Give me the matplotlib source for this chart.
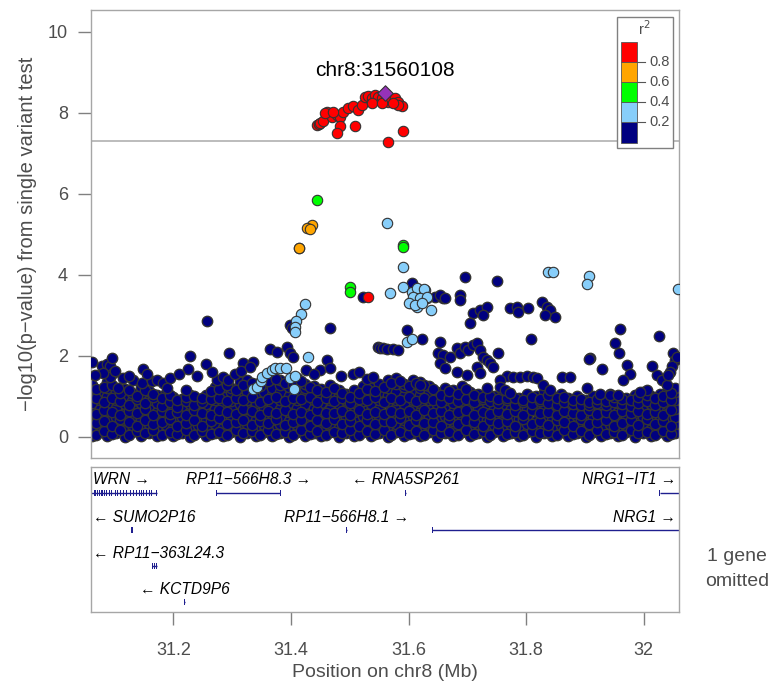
import numpy as np
import matplotlib
matplotlib.use('Agg')
import matplotlib.pyplot as plt
from matplotlib.patches import Rectangle

plt.rcParams['font.family'] = ['Liberation Sans', 'DejaVu Sans']

MINUS = '\u2212'

# ---------------- data: SNPs (position Mb, -log10 p) ----------------
lead_x = [31.5601]
lead_y = [8.50]
lead_label = "chr8:31560108"

red_x = [31.4438, 31.4470, 31.4495, 31.4546, 31.4614, 31.4699, 31.4784, 31.4835, 31.4886,
         31.4971, 31.5056, 31.5141, 31.5209, 31.5260, 31.5311, 31.5379, 31.5430, 31.5481,
         31.5549, 31.5651, 31.5685, 31.5770, 31.5821, 31.5889, 31.5821, 31.4835, 31.4784,
         31.5090, 31.5906, 31.5651, 31.4580, 31.4716, 31.5379, 31.5549, 31.5736, 31.5316]
red_y = [7.70, 7.73, 7.75, 7.79, 8.02, 7.91, 7.95, 7.91, 8.03,
         8.12, 8.16, 8.07, 8.20, 8.40, 8.42, 8.37, 8.44, 8.40,
         8.37, 8.28, 8.36, 8.36, 8.28, 8.17, 8.19, 7.68, 7.51,
         7.68, 7.56, 7.29, 7.99, 8.03, 8.24, 8.24, 8.24, 3.45]

orange_x = [31.4353, 31.4268, 31.4324, 31.4142, 31.4130]
orange_y = [5.23, 5.17, 5.13, 4.66, 4.67]

green_x = [31.4438, 31.5911, 31.5901, 31.5005, 31.5005]
green_y = [5.84, 4.74, 4.68, 3.70, 3.59]

lblue_x = [31.5629, 31.5901, 31.5685, 31.5901, 31.4239, 31.4171, 31.4086, 31.4069, 31.4069,
           31.4296, 31.3360, 31.3418, 31.3486, 31.3503, 31.3588, 31.3673, 31.3729, 31.3814,
           31.3916, 31.3984, 31.4069, 31.4052, 31.6054, 31.6139, 31.6280, 31.6081, 31.6195,
           31.6025, 31.6309, 31.6382, 31.6139, 31.6270, 31.6080, 31.6195, 31.6309, 31.6000,
           31.6110, 31.6224, 31.8377, 31.8462, 31.9074, 31.9040, 32.0588, 31.5969, 31.6064]
lblue_y = [5.29, 4.19, 3.55, 3.70, 3.28, 3.04, 2.87, 2.72, 2.58,
           1.97, 1.18, 1.23, 1.37, 1.47, 1.59, 1.65, 1.70, 1.70,
           1.71, 1.45, 1.51, 1.18, 3.59, 3.67, 3.63, 3.34, 3.34,
           3.30, 3.42, 3.14, 3.22, 3.65, 3.46, 3.42, 3.46, 3.30,
           3.26, 3.30, 4.08, 4.06, 3.98, 3.78, 3.65, 2.35, 2.41]

navy_x = [31.0612, 31.0782, 31.0867, 31.0923, 31.0952, 31.0979, 31.0923, 31.0809, 31.0668,
          31.1064, 31.1478, 31.1319, 31.1461, 31.1632, 31.1717, 31.1830, 31.1887, 31.2284,
          31.2245, 31.2551, 31.2216, 31.2952, 31.2738, 31.2850, 31.2935, 31.3190, 31.3360,
          31.3644, 31.3758, 31.3928, 31.3984, 31.4040, 31.4608, 31.4495, 31.4664, 31.5486,
          31.5289, 31.5401, 31.2578, 31.3980, 31.4010, 31.4664, 31.5515, 31.5571,
          31.5221, 31.6054, 31.6960, 31.6450, 31.6586, 31.6875, 31.7510, 31.6535, 31.6620,
          31.6875, 31.7101, 31.7215, 31.7330, 31.7272, 31.7045, 31.7726, 31.7840, 31.7867,
          31.8037, 31.8265, 31.8350, 31.8406, 31.8491, 31.8321, 31.5969, 31.6224, 31.8078,
          31.9597, 31.9511, 31.9580, 32.0265, 31.9086, 31.5636, 31.5736, 31.5821, 31.6535,
          31.6503, 31.6586, 31.6705, 31.6819, 31.6875, 31.6960, 31.7016, 31.7101, 31.7159,
          31.7215, 31.7272, 31.7330, 31.7386, 31.7442, 31.7527, 31.6535, 31.6620, 31.6819,
          31.6989, 31.7159, 31.7215, 31.6195, 31.7330, 31.7670, 31.7782, 31.7896, 31.8010,
          31.8122, 31.8180, 31.7556, 31.7556, 31.7641, 31.7726, 31.8605, 31.8746, 31.8292,
          31.8406, 31.9074, 31.9285, 31.9711, 31.9767, 31.9643, 32.0135, 32.0221, 32.0306,
          32.0391, 32.0051, 31.9937, 32.0503, 32.0532, 32.0476, 32.0561, 32.0447, 32.0418,
          31.9030, 31.9256, 31.9427, 31.9568, 31.1009, 31.1150, 31.1250, 31.1550, 31.1950,
          31.2100, 31.2400, 31.2650, 31.3050, 31.3150, 31.3300, 31.4250, 31.4400, 31.4850,
          31.5050, 31.5150]
navy_y = [1.86, 1.75, 1.79, 1.75, 1.94, 1.57, 1.49, 1.57, 1.53,
          1.20, 1.68, 1.41, 1.33, 1.37, 1.41, 1.33, 1.20, 2.00,
          1.67, 1.80, 1.16, 2.07, 1.41, 1.49, 1.41, 1.82, 1.86,
          2.17, 2.10, 2.23, 2.07, 1.98, 1.90, 1.65, 1.70, 2.23,
          1.44, 1.48, 2.86, 2.77, 2.68, 2.70, 2.20, 2.19,
          3.45, 3.79, 3.96, 3.46, 3.43, 3.50, 3.85, 3.50, 3.42,
          3.38, 3.05, 3.14, 3.22, 3.01, 2.81, 3.18, 3.22, 3.09,
          3.18, 3.34, 3.22, 3.14, 2.96, 3.01, 2.64, 2.41, 2.43,
          2.66, 2.31, 2.07, 2.49, 1.94, 2.18, 2.17, 2.15, 2.35,
          2.07, 2.02, 1.98, 2.19, 2.07, 2.23, 2.15, 2.27, 2.31,
          2.15, 1.98, 1.90, 1.82, 1.73, 2.07, 1.82, 1.70, 1.61,
          1.53, 1.73, 1.57, 1.28, 1.22, 1.51, 1.47, 1.47, 1.51,
          1.47, 1.45, 1.41, 1.24, 1.16, 1.08, 1.49, 1.47, 1.28,
          1.16, 1.93, 1.67, 1.78, 1.56, 1.41, 1.74, 1.53, 1.41,
          1.28, 1.16, 1.12, 2.07, 1.90, 1.74, 1.98, 1.61, 1.53,
          1.20, 1.05, 1.04, 1.04, 1.62, 1.45, 1.50, 1.55, 1.45,
          1.55, 1.50, 1.60, 1.55, 1.62, 1.72, 1.65, 1.55, 1.50,
          1.55, 1.60]

# dense low-significance carpet: one x per column, the -log10 p values read in that column
carpet_x = [31.061, 31.075, 31.088, 31.103, 31.117, 31.130, 31.145, 31.158, 31.172, 31.187,
            31.200, 31.214, 31.229, 31.242, 31.256, 31.271, 31.284, 31.298, 31.313, 31.326,
            31.340, 31.355, 31.368, 31.382, 31.397, 31.410, 31.424, 31.439, 31.452, 31.466,
            31.481, 31.494, 31.508, 31.523, 31.536, 31.550, 31.565, 31.578, 31.592, 31.607,
            31.620, 31.634, 31.649, 31.662, 31.676, 31.691, 31.704, 31.718, 31.733, 31.746,
            31.760, 31.775, 31.788, 31.802, 31.817, 31.830, 31.844, 31.859, 31.872, 31.886,
            31.901, 31.914, 31.928, 31.943, 31.956, 31.970, 31.985, 31.998, 32.012, 32.027,
            32.040, 32.054]
carpet_y = [
    [0.02, 0.21, 0.43, 0.61, 0.83, 1.04, 1.27],
    [0.11, 0.30, 0.52, 0.69, 0.91, 1.13],
    [0.03, 0.22, 0.41, 0.63, 0.82, 1.01, 1.22, 1.36],
    [0.09, 0.31, 0.50, 0.72, 0.90, 1.12],
    [0.01, 0.23, 0.42, 0.60, 0.81, 1.03, 1.19],
    [0.12, 0.29, 0.51, 0.71, 0.89, 1.08],
    [0.02, 0.20, 0.44, 0.62, 0.84, 1.02, 1.24],
    [0.10, 0.32, 0.49, 0.70, 0.92, 1.13],
    [0.03, 0.21, 0.40, 0.61, 0.83, 1.04],
    [0.11, 0.30, 0.52, 0.71, 0.90, 1.09],
    [0.02, 0.22, 0.41, 0.63, 0.80, 0.99],
    [0.09, 0.31, 0.50, 0.69, 0.93],
    [0.01, 0.20, 0.43, 0.62, 0.82, 1.03],
    [0.12, 0.29, 0.51, 0.72, 0.91],
    [0.03, 0.23, 0.42, 0.60, 0.81, 1.04],
    [0.10, 0.31, 0.49, 0.70, 0.92, 1.11, 1.24],
    [0.02, 0.21, 0.44, 0.63, 0.83, 1.02, 1.23, 1.31],
    [0.11, 0.30, 0.50, 0.71, 0.89, 1.10, 1.21],
    [0.01, 0.22, 0.41, 0.62, 0.82, 1.03, 1.21, 1.36],
    [0.09, 0.32, 0.52, 0.70, 0.91, 1.12, 1.31, 1.41],
    [0.03, 0.20, 0.43, 0.61, 0.84, 1.01, 1.22, 1.30],
    [0.12, 0.29, 0.51, 0.72, 0.90, 1.11, 1.32, 1.46],
    [0.02, 0.23, 0.42, 0.63, 0.81, 1.04, 1.21, 1.42, 1.52],
    [0.10, 0.31, 0.50, 0.69, 0.92, 1.10, 1.29, 1.41],
    [0.01, 0.21, 0.40, 0.62, 0.83, 1.02, 1.23, 1.35],
    [0.11, 0.30, 0.52, 0.71, 0.91, 1.12, 1.30, 1.46],
    [0.03, 0.22, 0.43, 0.60, 0.82, 1.03, 1.22, 1.31],
    [0.09, 0.29, 0.51, 0.72, 0.90, 1.11, 1.26],
    [0.02, 0.20, 0.41, 0.63, 0.84, 1.01, 1.19],
    [0.12, 0.32, 0.49, 0.70, 0.91, 1.10, 1.29],
    [0.01, 0.23, 0.44, 0.61, 0.81, 1.02, 1.16],
    [0.10, 0.31, 0.50, 0.69, 0.92, 1.06],
    [0.03, 0.21, 0.42, 0.62, 0.83, 1.04, 1.15],
    [0.11, 0.30, 0.52, 0.71, 0.89, 1.12, 1.25],
    [0.02, 0.22, 0.40, 0.63, 0.82, 1.01, 1.21],
    [0.09, 0.29, 0.51, 0.70, 0.90, 1.11, 1.30],
    [0.01, 0.20, 0.43, 0.60, 0.84, 1.03, 1.22, 1.40],
    [0.12, 0.32, 0.49, 0.72, 0.91, 1.10, 1.31, 1.46],
    [0.03, 0.23, 0.41, 0.62, 0.81, 1.02, 1.23, 1.31],
    [0.10, 0.31, 0.52, 0.71, 0.92, 1.12, 1.30, 1.41],
    [0.02, 0.21, 0.42, 0.61, 0.83, 1.04, 1.21, 1.36],
    [0.11, 0.30, 0.50, 0.69, 0.90, 1.11, 1.26],
    [0.01, 0.22, 0.44, 0.63, 0.82, 1.03, 1.10],
    [0.09, 0.29, 0.51, 0.70, 0.91, 1.12, 1.20],
    [0.03, 0.20, 0.40, 0.62, 0.84, 1.01, 1.15],
    [0.12, 0.32, 0.52, 0.72, 0.89, 1.10, 1.26],
    [0.02, 0.23, 0.43, 0.60, 0.81, 1.02, 1.10],
    [0.10, 0.31, 0.49, 0.71, 0.92, 1.05],
    [0.01, 0.21, 0.41, 0.63, 0.83, 1.04],
    [0.11, 0.30, 0.51, 0.70, 0.90, 1.00],
    [0.03, 0.22, 0.42, 0.61, 0.82, 1.03],
    [0.09, 0.29, 0.50, 0.69, 0.91, 1.01],
    [0.02, 0.20, 0.44, 0.62, 0.80, 0.96],
    [0.12, 0.32, 0.52, 0.72, 0.90, 1.05],
    [0.01, 0.23, 0.40, 0.63, 0.84, 1.00],
    [0.10, 0.31, 0.51, 0.70, 0.91, 1.10],
    [0.03, 0.21, 0.43, 0.61, 0.82, 1.01],
    [0.11, 0.30, 0.49, 0.71, 0.89, 1.06],
    [0.02, 0.22, 0.41, 0.60, 0.83, 0.95],
    [0.09, 0.29, 0.52, 0.69, 0.92, 1.00],
    [0.01, 0.20, 0.42, 0.62, 0.81, 0.90],
    [0.12, 0.32, 0.50, 0.72, 0.90, 1.01],
    [0.03, 0.23, 0.44, 0.63, 0.82, 0.95],
    [0.10, 0.31, 0.51, 0.70, 0.91, 1.05],
    [0.02, 0.21, 0.40, 0.61, 0.84, 1.00],
    [0.11, 0.30, 0.52, 0.71, 0.89, 0.96],
    [0.01, 0.22, 0.43, 0.60, 0.83, 1.04],
    [0.09, 0.29, 0.49, 0.72, 0.90, 1.10],
    [0.03, 0.20, 0.41, 0.62, 0.81, 1.01],
    [0.12, 0.32, 0.51, 0.69, 0.92, 1.05],
    [0.02, 0.23, 0.42, 0.63, 0.82, 1.03, 1.11],
    [0.10, 0.31, 0.50, 0.70, 0.91, 1.12, 1.21],
]
# second, interleaved set of carpet columns
carpet2_x = [31.068, 31.082, 31.096, 31.110, 31.124, 31.138, 31.151, 31.165, 31.180, 31.194,
             31.207, 31.222, 31.235, 31.249, 31.264, 31.278, 31.291, 31.306, 31.319, 31.333,
             31.348, 31.361, 31.375, 31.390, 31.403, 31.417, 31.432, 31.445, 31.459, 31.474,
             31.487, 31.501, 31.516, 31.529, 31.543, 31.558, 31.571, 31.585, 31.600, 31.613,
             31.627, 31.642, 31.655, 31.669, 31.684, 31.697, 31.711, 31.726, 31.739, 31.753,
             31.768, 31.781, 31.795, 31.810, 31.823, 31.837, 31.852, 31.865, 31.879, 31.894,
             31.907, 31.921, 31.936, 31.949, 31.963, 31.978, 31.991, 32.005, 32.020, 32.033,
             32.047]
carpet2_y = [
    [0.06, 0.34, 0.57, 0.95, 1.18], [0.15, 0.40, 0.66, 0.86, 1.24], [0.08, 0.27, 0.61, 0.97, 1.28],
    [0.17, 0.45, 0.55, 0.88, 1.09], [0.05, 0.36, 0.64, 0.79, 1.15], [0.14, 0.26, 0.58, 0.94, 1.02],
    [0.09, 0.41, 0.68, 0.85, 1.17], [0.16, 0.33, 0.54, 0.98, 1.07], [0.04, 0.38, 0.65, 0.77, 0.96],
    [0.13, 0.44, 0.57, 0.87, 1.03], [0.07, 0.28, 0.62, 0.74, 0.92], [0.18, 0.35, 0.53, 0.89, 0.99],
    [0.06, 0.42, 0.66, 0.78, 1.01], [0.15, 0.27, 0.59, 0.86, 0.96], [0.08, 0.39, 0.55, 0.93, 1.14],
    [0.12, 0.46, 0.67, 0.96, 1.19], [0.05, 0.32, 0.61, 0.88, 1.27], [0.17, 0.37, 0.56, 0.97, 1.16],
    [0.09, 0.43, 0.68, 0.92, 1.29], [0.14, 0.29, 0.63, 0.99, 1.34], [0.06, 0.40, 0.54, 0.87, 1.25],
    [0.16, 0.34, 0.65, 0.94, 1.38], [0.07, 0.45, 0.59, 0.98, 1.44], [0.13, 0.30, 0.66, 0.89, 1.33],
    [0.04, 0.38, 0.57, 0.96, 1.27], [0.18, 0.42, 0.62, 0.93, 1.37], [0.08, 0.27, 0.55, 0.99, 1.24],
    [0.15, 0.41, 0.67, 0.86, 1.17], [0.05, 0.35, 0.60, 0.95, 1.12], [0.12, 0.44, 0.58, 0.88, 1.22],
    [0.09, 0.31, 0.64, 0.97, 1.08], [0.16, 0.39, 0.53, 0.85, 0.98], [0.06, 0.28, 0.66, 0.94, 1.09],
    [0.14, 0.43, 0.57, 0.90, 1.18], [0.07, 0.33, 0.62, 0.98, 1.14], [0.17, 0.40, 0.56, 0.87, 1.24],
    [0.05, 0.36, 0.65, 0.96, 1.33], [0.13, 0.46, 0.59, 0.92, 1.38], [0.08, 0.29, 0.63, 0.99, 1.25],
    [0.15, 0.42, 0.54, 0.88, 1.33], [0.06, 0.35, 0.67, 0.95, 1.29], [0.18, 0.38, 0.58, 0.91, 1.18],
    [0.09, 0.27, 0.64, 0.86, 1.04], [0.12, 0.44, 0.55, 0.97, 1.13], [0.04, 0.32, 0.61, 0.89, 1.07],
    [0.16, 0.41, 0.66, 0.94, 1.18], [0.07, 0.37, 0.53, 0.87, 1.03], [0.14, 0.28, 0.62, 0.93, 0.98],
    [0.05, 0.43, 0.57, 0.88, 1.02], [0.17, 0.34, 0.65, 0.83, 0.94], [0.08, 0.39, 0.56, 0.91, 0.97],
    [0.13, 0.26, 0.63, 0.79, 0.95], [0.06, 0.45, 0.54, 0.86, 0.91], [0.15, 0.33, 0.67, 0.81, 0.99],
    [0.09, 0.40, 0.58, 0.88, 0.94], [0.12, 0.29, 0.61, 0.84, 1.03], [0.05, 0.42, 0.55, 0.79, 0.95],
    [0.18, 0.36, 0.64, 0.87, 0.99], [0.07, 0.27, 0.59, 0.82, 0.90], [0.14, 0.44, 0.53, 0.78, 0.94],
    [0.06, 0.31, 0.66, 0.80, 0.86], [0.16, 0.38, 0.57, 0.85, 0.93], [0.08, 0.43, 0.62, 0.79, 0.89],
    [0.13, 0.28, 0.54, 0.86, 0.98], [0.05, 0.35, 0.65, 0.81, 0.93], [0.17, 0.41, 0.58, 0.77, 0.90],
    [0.09, 0.30, 0.63, 0.84, 0.99], [0.12, 0.45, 0.56, 0.88, 1.04], [0.06, 0.33, 0.61, 0.80, 0.95],
    [0.15, 0.39, 0.55, 0.87, 1.01], [0.07, 0.28, 0.66, 0.91, 1.08],
]

# ---------------- legend ----------------
r2_breaks = ["0.2", "0.4", "0.6", "0.8"]
r2_colors = ["#000080", "#87CEFA", "#00FF00", "#FFA500", "#FF0000"]
lead_color = "#9632B8"

# ---------------- genes ----------------
gene_names = ["WRN", "RP11" + MINUS + "566H8.3", "RNA5SP261", "NRG1" + MINUS + "IT1",
              "SUMO2P16", "RP11" + MINUS + "566H8.1", "NRG1",
              "RP11" + MINUS + "363L24.3", "KCTD9P6"]
gene_start = [31.040, 31.2734, 31.5945, 32.0270, 31.1295, 31.4942, 31.6400, 31.1640, 31.2184]
gene_end = [31.1720, 31.3822, 31.5955, 32.1000, 31.1305, 31.4952, 32.2000, 31.1720, 31.2194]
gene_strand = ["+", "+", "-", "+", "-", "+", "+", "-", "-"]
gene_lane = [0, 0, 0, 0, 1, 1, 1, 2, 3]
wrn_exons = [31.0634, 31.0659, 31.0684, 31.0718, 31.0752, 31.0777, 31.0803, 31.0836, 31.0870,
             31.0913, 31.0955, 31.1023, 31.1057, 31.1106, 31.1149, 31.1208, 31.1267, 31.1318,
             31.1377, 31.1419, 31.1461, 31.1495, 31.1546, 31.1597, 31.1630, 31.1715]
rp363_exons = [31.1645, 31.1680, 31.1715]
omitted_note = "1 gene\nomitted"

XMIN, XMAX = 31.06, 32.06
xticks = [31.2, 31.4, 31.6, 31.8, 32.0]
xticklabels = ["31.2", "31.4", "31.6", "31.8", "32"]
yticks = [0, 2, 4, 6, 8, 10]

# ---------------- figure ----------------
W, H = 771, 681
fig = plt.figure(figsize=(W / 100, H / 100), dpi=100)
ax = fig.add_axes([91 / W, (H - 458) / H, 588 / W, 448 / H])
gx = fig.add_axes([91 / W, (H - 612) / H, 588 / W, 145 / H])

spine_c = "#A6A6A6"
text_c = "#4D4D4D"

ax.set_xlim(XMIN, XMAX)
ax.set_ylim(-0.52, 10.54)
for s in ax.spines.values():
    s.set_color(spine_c)
    s.set_linewidth(1.0)
ax.set_xticks([])
ax.set_yticks(yticks)
ax.set_yticklabels([str(v) for v in yticks])
ax.tick_params(axis='y', length=9.5, width=1, color="#808080", labelsize=13,
               labelcolor=text_c, pad=7)
ax.set_ylabel(MINUS + "log10(p" + MINUS + "value) from single variant test",
              fontsize=14.5, color=text_c, labelpad=8)

ax.axhline(7.3, color="#B0B0B0", lw=1.2, zorder=1)

S = 56
EC = "#333333"
LW = 1.0
cx, cy = [], []
for xs, yss in ((carpet_x, carpet_y), (carpet2_x, carpet2_y)):
    for x, ys in zip(xs, yss):
        for y in ys:
            cx.append(x)
            cy.append(y)
ax.scatter(cx, cy, s=S, c=r2_colors[0], edgecolors=EC, linewidths=LW, zorder=2)
ax.scatter(navy_x, navy_y, s=S, c=r2_colors[0], edgecolors=EC, linewidths=LW, zorder=3)
ax.scatter(lblue_x, lblue_y, s=S, c=r2_colors[1], edgecolors=EC, linewidths=0.8, zorder=4)
ax.scatter(green_x, green_y, s=S, c=r2_colors[2], edgecolors=EC, linewidths=0.8, zorder=5)
ax.scatter(orange_x, orange_y, s=S, c=r2_colors[3], edgecolors=EC, linewidths=0.8, zorder=6)
ax.scatter(red_x, red_y, s=S, c=r2_colors[4], edgecolors=EC, linewidths=0.8, zorder=7)
ax.scatter(lead_x, lead_y, s=62, c=lead_color, marker='D', edgecolors=EC, linewidths=0.8, zorder=8)
ax.text(lead_x[0], 9.04, lead_label, ha='center', va='center', fontsize=15, color='black')

# r2 legend (axes fraction coordinates)
def fx(px):
    return (px - 91) / 588

def fy(py):
    return (458 - py) / 448

ax.add_patch(Rectangle((fx(617), fy(148)), fx(673) - fx(617), fy(17) - fy(148),
                       transform=ax.transAxes, fill=True, facecolor='white',
                       edgecolor="#808080", lw=1.0, zorder=9))
edges_py = [142.5, 122.3, 102.3, 82.3, 62.3, 42.3]
for i, col in enumerate(r2_colors):
    y0 = fy(edges_py[i])
    y1 = fy(edges_py[i + 1])
    ax.add_patch(Rectangle((fx(620.5), y0), fx(637) - fx(620.5), y1 - y0, transform=ax.transAxes,
                           facecolor=col, edgecolor="#555555", lw=0.6, zorder=10))
for i, lab in enumerate(r2_breaks):
    yb = fy(edges_py[i + 1])
    ax.plot([fx(637), fx(645)], [yb, yb], transform=ax.transAxes, color="#555555",
            lw=0.8, zorder=10)
    ax.text(fx(649), yb, lab, transform=ax.transAxes, ha='left', va='center',
            fontsize=10.5, color=text_c, zorder=10)
ax.text(fx(644), fy(29), "r$^2$", transform=ax.transAxes, ha='center', va='center',
        fontsize=10.5, color=text_c, zorder=10)

# ---------------- gene panel ----------------
gx.set_xlim(XMIN, XMAX)
gx.set_ylim(145, 0)
for s in gx.spines.values():
    s.set_color(spine_c)
    s.set_linewidth(1.0)
gx.set_yticks([])
gx.set_xticks(xticks)
gx.set_xticklabels(xticklabels)
gx.tick_params(axis='x', length=9.5, width=1, color="#808080", labelsize=13,
               labelcolor=text_c, pad=12)
gx.set_xlabel("Position on chr8 (Mb)", fontsize=14, color=text_c, labelpad=4)

lane_gene_y = [26, 63, 99, 135]
lane_text_y = [13, 51, 86, 123]
gene_c = "#1F1F8F"
left_clamped = {"SUMO2P16", "RP11" + MINUS + "363L24.3"}
right_clamped = {"NRG1" + MINUS + "IT1", "NRG1"}

for name, st, en, strand, lane in zip(gene_names, gene_start, gene_end, gene_strand, gene_lane):
    gy = lane_gene_y[lane]
    gx.plot([st, en], [gy, gy], color=gene_c, lw=1.0, solid_capstyle='butt', zorder=2)
    if name == "WRN":
        for e in wrn_exons:
            gx.add_patch(Rectangle((e - 0.0008, gy - 3), 0.0016, 6, facecolor=gene_c,
                                   edgecolor='none', zorder=3))
    elif name.startswith("RP11" + MINUS + "363"):
        for e in rp363_exons:
            gx.add_patch(Rectangle((e - 0.0008, gy - 3), 0.0016, 6, facecolor=gene_c,
                                   edgecolor='none', zorder=3))
    else:
        for e in (st, en):
            if XMIN <= e <= XMAX:
                gx.add_patch(Rectangle((e - 0.0009, gy - 3), 0.0018, 6, facecolor=gene_c,
                                       edgecolor='none', zorder=3))
    label = (name + " \u2192") if strand == "+" else ("\u2190 " + name)
    if name in left_clamped:
        tx, ha = XMIN + 0.004, 'left'
    elif name in right_clamped:
        tx, ha = XMAX - 0.005, 'right'
    else:
        tx, ha = (max(st, XMIN) + min(en, XMAX)) / 2, 'center'
    if name == "WRN":
        tx, ha = XMIN + 0.003, 'left'
    gx.text(tx, lane_text_y[lane], label, ha=ha, va='center', fontsize=11.2,
            style='italic', color='black', zorder=4)

fig.text(737 / W, (H - 569) / H, omitted_note, ha='center', va='center', fontsize=14,
         color=text_c, linespacing=1.55)

fig.savefig("out.png", dpi=100)
